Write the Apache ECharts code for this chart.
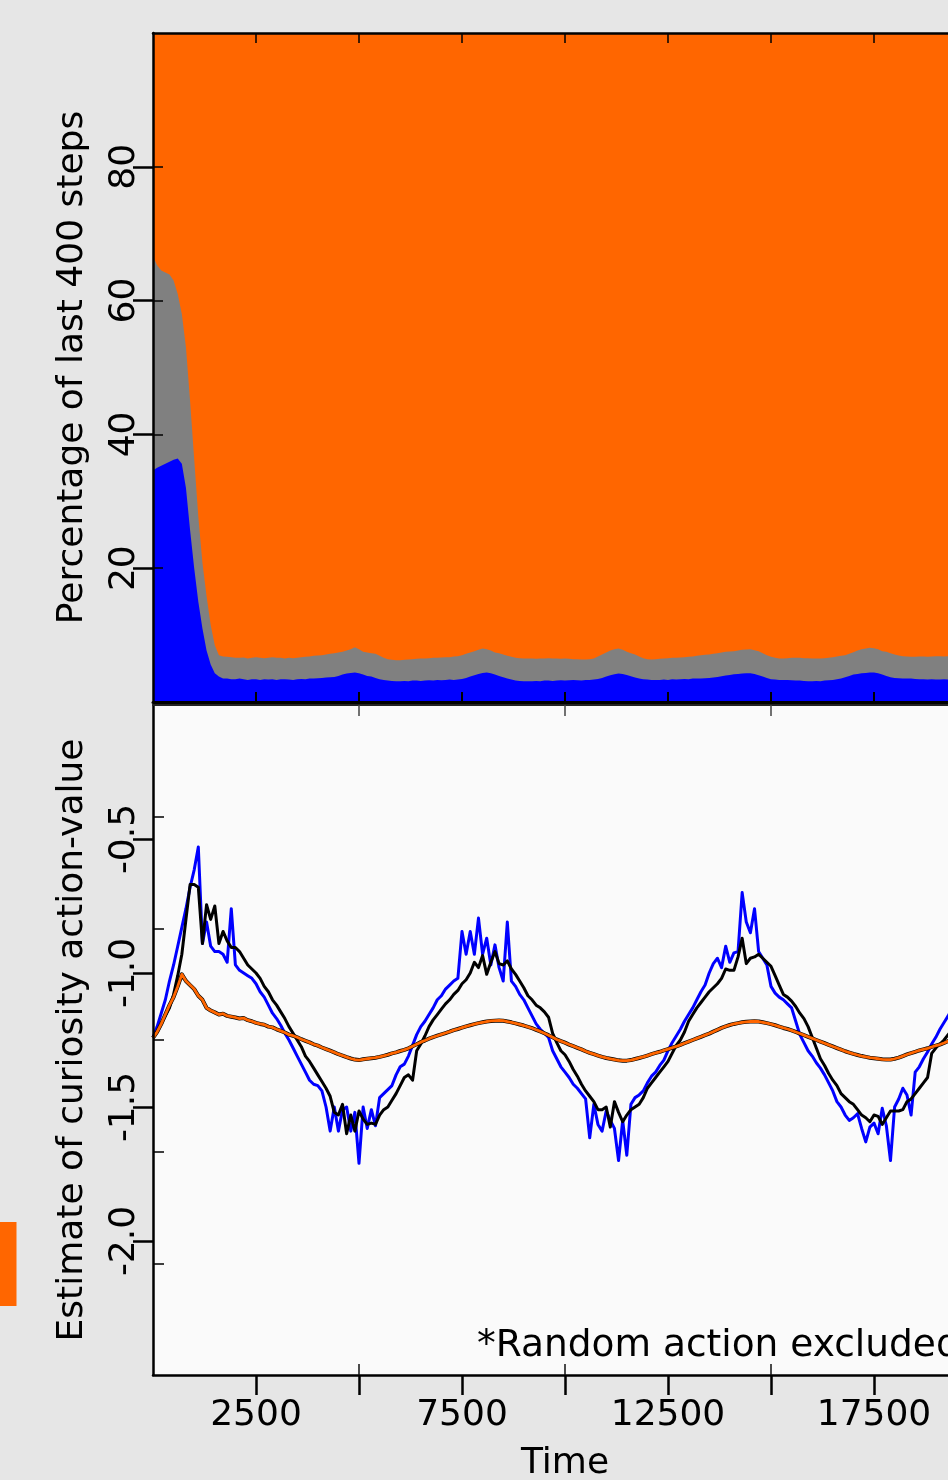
<!DOCTYPE html>
<html>
<head>
<meta charset="utf-8">
<title>Action shares and curiosity action-value over time</title>
<script src="https://cdn.jsdelivr.net/npm/echarts@6/dist/echarts.min.js"></script>
<style>
  html, body { margin: 0; padding: 0; background: #e6e6e6; }
  #chart { width: 948px; height: 1480px; }
</style>
</head>
<body>
<div id="chart"></div>
<script>
// Time between consecutive samples (steps)
const SAMPLE_STEP = 100;

// Top panel: share (%) of the last 400 steps taken by each action.
// blueShare = blue action, blueGrayShare = blue + gray actions together.
const blueShare = [
  34.6, 35.0, 35.3, 35.6, 35.9, 36.2, 36.4, 35.6, 32.0, 25.7,
  20.0, 15.0, 11.0, 7.7, 5.6, 4.3, 3.8, 3.5, 3.5, 3.4,
  3.4, 3.5, 3.4, 3.3, 3.4, 3.4, 3.3, 3.4, 3.35, 3.4,
  3.3, 3.4, 3.4, 3.35, 3.3, 3.4, 3.45, 3.4, 3.5, 3.5,
  3.55, 3.6, 3.65, 3.7, 3.75, 3.9, 4.1, 4.25, 4.35, 4.4,
  4.3, 4.1, 3.9, 3.8, 3.6, 3.4, 3.3, 3.2, 3.15, 3.1,
  3.1, 3.15, 3.1, 3.2, 3.2, 3.15, 3.2, 3.25, 3.2, 3.3,
  3.25, 3.3, 3.35, 3.3, 3.35, 3.45, 3.6, 3.8, 4.0, 4.2,
  4.35, 4.4, 4.3, 4.1, 3.9, 3.7, 3.5, 3.35, 3.2, 3.15,
  3.1, 3.1, 3.1, 3.15, 3.1, 3.2, 3.2, 3.15, 3.2, 3.25,
  3.2, 3.25, 3.3, 3.25, 3.2, 3.3, 3.3, 3.35, 3.45, 3.6,
  3.8, 4.0, 4.15, 4.25, 4.2, 4.05, 3.85, 3.65, 3.5, 3.4,
  3.35, 3.3, 3.3, 3.3, 3.35, 3.3, 3.4, 3.35, 3.4, 3.45,
  3.4, 3.5, 3.5, 3.5, 3.55, 3.6, 3.65, 3.75, 3.85, 3.95,
  4.05, 4.15, 4.2, 4.25, 4.3, 4.3, 4.2, 4.0, 3.8, 3.6,
  3.4, 3.35, 3.3, 3.3, 3.3, 3.25, 3.2, 3.2, 3.15, 3.1,
  3.1, 3.15, 3.1, 3.2, 3.25, 3.3, 3.4, 3.5, 3.7, 3.9,
  4.1, 4.2, 4.3, 4.35, 4.4, 4.4, 4.3, 4.1, 3.9, 3.7,
  3.6, 3.55, 3.5, 3.5, 3.5, 3.45, 3.4, 3.4, 3.35, 3.4,
  3.35, 3.35, 3.4, 3.35, 3.3, 3.35, 3.3
];
const blueGrayShare = [
  66.6, 65.3, 64.5, 64.2, 63.9, 63.0, 61.0, 58.0, 53.0, 45.0,
  36.3, 27.7, 20.8, 15.8, 11.5, 8.5, 7.0, 6.8, 6.75, 6.7,
  6.6, 6.6, 6.65, 6.5, 6.6, 6.7, 6.6, 6.55, 6.6, 6.7,
  6.6, 6.6, 6.5, 6.6, 6.55, 6.6, 6.7, 6.75, 6.8, 6.9,
  6.95, 7.0, 7.1, 7.2, 7.3, 7.4, 7.5, 7.7, 7.9, 8.2,
  7.9, 7.5, 7.4, 7.3, 7.2, 6.9, 6.6, 6.4, 6.3, 6.25,
  6.25, 6.3, 6.35, 6.4, 6.45, 6.5, 6.5, 6.55, 6.6, 6.6,
  6.65, 6.7, 6.7, 6.8, 6.85, 7.0, 7.2, 7.4, 7.6, 7.8,
  8.0, 7.9, 7.7, 7.4, 7.3, 7.1, 6.9, 6.75, 6.6, 6.55,
  6.5, 6.5, 6.5, 6.45, 6.5, 6.5, 6.55, 6.5, 6.5, 6.45,
  6.5, 6.45, 6.4, 6.4, 6.35, 6.35, 6.4, 6.5, 6.8, 7.1,
  7.4, 7.7, 7.9, 8.0, 7.8, 7.5, 7.3, 7.1, 6.8, 6.55,
  6.4, 6.35, 6.4, 6.45, 6.5, 6.55, 6.6, 6.6, 6.65, 6.7,
  6.75, 6.8, 6.9, 7.0, 7.05, 7.1, 7.2, 7.3, 7.4, 7.5,
  7.55, 7.6, 7.7, 7.8, 7.85, 7.9, 7.75, 7.6, 7.3, 7.0,
  6.75, 6.6, 6.5, 6.5, 6.55, 6.6, 6.6, 6.6, 6.55, 6.55,
  6.5, 6.5, 6.5, 6.55, 6.6, 6.7, 6.8, 6.9, 7.0, 7.2,
  7.45, 7.7, 7.9, 8.0, 8.1, 8.05, 7.9, 7.6, 7.5, 7.3,
  7.1, 6.95, 6.85, 6.8, 6.75, 6.75, 6.8, 6.8, 6.75, 6.8,
  6.85, 6.85, 6.8, 6.85, 6.85, 6.8, 6.85
];

// Bottom panel: estimated curiosity action-value of each action
const blueValue = [
  -1.24, -1.20, -1.15, -1.10, -1.03, -0.97, -0.90, -0.83, -0.76, -0.68,
  -0.615, -0.53, -0.89, -0.81, -0.90, -0.92, -0.92, -0.93, -0.96, -0.76,
  -0.97, -0.99, -1.00, -1.01, -1.02, -1.04, -1.07, -1.09, -1.12, -1.15,
  -1.17, -1.195, -1.225, -1.25, -1.28, -1.31, -1.34, -1.37, -1.40, -1.415,
  -1.42, -1.44, -1.50, -1.59, -1.50, -1.59, -1.51, -1.50, -1.59, -1.52,
  -1.71, -1.50, -1.58, -1.51, -1.57, -1.465, -1.45, -1.435, -1.42, -1.38,
  -1.35, -1.34, -1.31, -1.27, -1.23, -1.20, -1.18, -1.155, -1.13, -1.10,
  -1.085, -1.06, -1.045, -1.03, -1.02, -0.845, -0.93, -0.845, -0.93, -0.795,
  -0.93, -0.87, -0.97, -0.895, -0.98, -1.03, -0.81, -1.03, -1.05, -1.08,
  -1.10, -1.13, -1.16, -1.19, -1.21, -1.225, -1.24, -1.29, -1.32, -1.35,
  -1.37, -1.39, -1.415, -1.43, -1.45, -1.47, -1.615, -1.49, -1.565, -1.59,
  -1.515, -1.55, -1.58, -1.70, -1.55, -1.68, -1.49, -1.465, -1.455, -1.44,
  -1.41, -1.385, -1.37, -1.345, -1.325, -1.29, -1.26, -1.235, -1.21, -1.18,
  -1.155, -1.13, -1.10, -1.07, -1.045, -1.00, -0.965, -0.945, -0.98, -0.90,
  -0.96, -0.925, -0.92, -0.70, -0.81, -0.85, -0.76, -0.92, -0.945, -0.97,
  -1.05, -1.075, -1.09, -1.10, -1.115, -1.13, -1.18, -1.23, -1.26, -1.29,
  -1.31, -1.335, -1.355, -1.38, -1.41, -1.44, -1.48, -1.50, -1.53, -1.55,
  -1.54, -1.525, -1.58, -1.63, -1.575, -1.56, -1.60, -1.505, -1.57, -1.70,
  -1.50, -1.47, -1.43, -1.455, -1.53, -1.37, -1.35, -1.32, -1.295, -1.265,
  -1.24, -1.21, -1.185, -1.16, -1.13, -1.10, -1.08
];
const blackValue = [
  -1.24, -1.22, -1.19, -1.16, -1.13, -1.08, -1.01, -0.93, -0.80, -0.67,
  -0.67, -0.68, -0.89, -0.745, -0.80, -0.75, -0.89, -0.845, -0.88, -0.905,
  -0.905, -0.92, -0.945, -0.97, -0.985, -1.00, -1.02, -1.05, -1.07, -1.10,
  -1.12, -1.145, -1.17, -1.20, -1.225, -1.25, -1.275, -1.31, -1.33, -1.355,
  -1.38, -1.405, -1.43, -1.46, -1.52, -1.53, -1.49, -1.60, -1.53, -1.59,
  -1.515, -1.545, -1.565, -1.56, -1.565, -1.53, -1.51, -1.50, -1.475, -1.45,
  -1.42, -1.39, -1.38, -1.40, -1.29, -1.265, -1.235, -1.20, -1.175, -1.155,
  -1.135, -1.115, -1.10, -1.08, -1.065, -1.04, -1.025, -1.00, -0.96, -0.98,
  -0.935, -1.005, -0.96, -0.92, -0.965, -0.97, -0.955, -0.985, -1.005, -1.03,
  -1.055, -1.085, -1.10, -1.12, -1.13, -1.145, -1.165, -1.225, -1.26, -1.29,
  -1.305, -1.33, -1.36, -1.385, -1.415, -1.44, -1.46, -1.48, -1.51, -1.51,
  -1.50, -1.575, -1.48, -1.52, -1.555, -1.53, -1.51, -1.50, -1.49, -1.465,
  -1.43, -1.41, -1.39, -1.37, -1.35, -1.33, -1.30, -1.27, -1.25, -1.22,
  -1.18, -1.155, -1.13, -1.11, -1.09, -1.07, -1.055, -1.04, -1.02, -0.985,
  -0.99, -0.99, -0.94, -0.87, -0.965, -0.945, -0.94, -0.93, -0.945, -0.96,
  -0.975, -1.01, -1.045, -1.08, -1.09, -1.105, -1.125, -1.15, -1.17, -1.20,
  -1.24, -1.28, -1.32, -1.345, -1.375, -1.40, -1.42, -1.45, -1.465, -1.48,
  -1.49, -1.51, -1.53, -1.54, -1.555, -1.53, -1.535, -1.565, -1.54, -1.515,
  -1.515, -1.515, -1.51, -1.48, -1.47, -1.45, -1.43, -1.41, -1.39, -1.30,
  -1.28, -1.265, -1.25, -1.23, -1.21, -1.19, -1.17
];
const orangeValue = [
  -1.242, -1.22, -1.19, -1.155, -1.12, -1.09, -1.05, -1.005, -1.03, -1.045,
  -1.06, -1.085, -1.10, -1.13, -1.14, -1.147, -1.155, -1.152, -1.16, -1.163,
  -1.166, -1.17, -1.168, -1.176, -1.18, -1.186, -1.19, -1.193, -1.20, -1.203,
  -1.21, -1.216, -1.222, -1.23, -1.234, -1.24, -1.247, -1.253, -1.259, -1.266,
  -1.271, -1.278, -1.284, -1.29, -1.296, -1.303, -1.308, -1.314, -1.319, -1.323,
  -1.325, -1.322, -1.320, -1.318, -1.316, -1.313, -1.309, -1.305, -1.300, -1.296,
  -1.291, -1.287, -1.281, -1.273, -1.266, -1.258, -1.252, -1.245, -1.239, -1.234,
  -1.229, -1.224, -1.219, -1.213, -1.209, -1.204, -1.199, -1.195, -1.191, -1.187,
  -1.184, -1.181, -1.179, -1.178, -1.177, -1.178, -1.181, -1.184, -1.188, -1.192,
  -1.196, -1.201, -1.206, -1.212, -1.218, -1.225, -1.232, -1.240, -1.248, -1.254,
  -1.260, -1.267, -1.273, -1.279, -1.285, -1.292, -1.298, -1.303, -1.308, -1.313,
  -1.317, -1.320, -1.323, -1.326, -1.327, -1.327, -1.325, -1.321, -1.317, -1.313,
  -1.308, -1.303, -1.298, -1.294, -1.289, -1.284, -1.279, -1.274, -1.268, -1.262,
  -1.256, -1.250, -1.244, -1.238, -1.232, -1.226, -1.219, -1.212, -1.205, -1.199,
  -1.194, -1.190, -1.187, -1.184, -1.182, -1.181, -1.180, -1.181, -1.184, -1.187,
  -1.191, -1.195, -1.200, -1.205, -1.209, -1.214, -1.220, -1.226, -1.232, -1.238,
  -1.244, -1.250, -1.256, -1.262, -1.268, -1.274, -1.280, -1.286, -1.292, -1.297,
  -1.302, -1.306, -1.310, -1.313, -1.316, -1.318, -1.320, -1.322, -1.323, -1.323,
  -1.320, -1.316, -1.310, -1.304, -1.299, -1.294, -1.289, -1.285, -1.281, -1.276,
  -1.271, -1.267, -1.261, -1.254, -1.248, -1.242, -1.236
];

// Axis ticks and tick labels
const timeTicks = [2500, 5000, 7500, 10000, 12500, 15000, 17500, 20000];
const timeMinorTicks = [5000, 10000, 15000, 20000];
const timeTickLabels = [2500, 7500, 12500, 17500];
const percentTicks = [20, 40, 60, 80];
const estimateTicks = [-0.5, -1.0, -1.5, -2.0];
const estimateInnerTicks = [1, 2, 3, 4, 5];

const FONT = 'DejaVu Sans';
const ORANGE = '#ff6600';
const BLUE = '#0000ff';
const GRAY = '#808080';

const toPoints = arr => arr.map((v, i) => [i * SAMPLE_STEP, v]);
// Orange takes the remainder of the window, so the three bands fill 0..100
const orangeShare = blueGrayShare.map(v => 100 - v);
const allShare = blueGrayShare.map((v, i) => v + orangeShare[i]);

const labelStyle = { color: '#000', fontFamily: FONT, fontSize: 36 };
const noLine = { show: false };
const line = (width, color) => ({ onZero: false, lineStyle: { color: color || '#000', width } });
const hiddenLine = { show: false, onZero: false };

// Each band is filled from the bottom of the panel up to its cumulative edge;
// later bands are drawn on top of earlier ones.
function bandSeries(name, edge, color, z) {
  return {
    name, type: 'line', xAxisIndex: 0, yAxisIndex: 0, z,
    data: toPoints(edge), symbol: 'none', silent: true,
    lineStyle: { width: 0 }, areaStyle: { color, opacity: 1, origin: 'start' }
  };
}
function valueSeries(name, data, color, width, z) {
  return {
    name, type: 'line', xAxisIndex: 2, yAxisIndex: 2, z,
    data: toPoints(data), symbol: 'none', silent: true,
    lineStyle: { color, width, join: 'round' }
  };
}

const chart = echarts.init(document.getElementById('chart'), null, { renderer: 'canvas' });

chart.setOption({
  backgroundColor: '#e6e6e6',
  animation: false,
  grid: [
    { left: 153, top: 33, width: 824, height: 669, outerBoundsMode: 'none', containLabel: false },
    { left: 153, top: 705, width: 824, height: 670, outerBoundsMode: 'none', containLabel: false,
      show: true, backgroundColor: '#fafafa', borderWidth: 0 }
  ],
  xAxis: [
    { gridIndex: 0, type: 'value', position: 'bottom', min: 0, max: 20000, z: 10,
      axisLine: line(3),
      axisTick: { inside: true, length: 10, customValues: timeTicks, lineStyle: { color: '#000', width: 2 } },
      axisLabel: { show: false }, splitLine: noLine },
    { gridIndex: 0, type: 'value', position: 'top', min: 0, max: 20000, z: 10,
      axisLine: line(2.5),
      axisTick: { inside: true, length: 10, customValues: timeTicks, lineStyle: { color: '#000', width: 1.5 } },
      axisLabel: { show: false }, splitLine: noLine },
    { gridIndex: 1, type: 'value', position: 'bottom', min: 0, max: 20000, z: 10,
      name: 'Time', nameLocation: 'middle', nameGap: 71, nameTextStyle: labelStyle,
      axisLine: line(2.5),
      axisTick: { inside: false, length: 20, customValues: timeTicks, lineStyle: { color: '#000', width: 2.5 } },
      axisLabel: Object.assign({ margin: 23, customValues: timeTickLabels, formatter: v => String(v) }, labelStyle),
      splitLine: noLine },
    { gridIndex: 1, type: 'value', position: 'bottom', min: 0, max: 20000, z: 10,
      axisLine: hiddenLine,
      axisTick: { inside: true, length: 11, customValues: timeMinorTicks, lineStyle: { color: '#111', width: 1.5 } },
      axisLabel: { show: false }, splitLine: noLine },
    { gridIndex: 1, type: 'value', position: 'top', min: 0, max: 20000, z: 10,
      axisLine: line(2, '#222'),
      axisTick: { inside: true, length: 11, customValues: timeMinorTicks, lineStyle: { color: '#444', width: 1.5 } },
      axisLabel: { show: false }, splitLine: noLine }
  ],
  yAxis: [
    { gridIndex: 0, type: 'value', position: 'left', min: 0, max: 100, z: 10,
      name: 'Percentage of last 400 steps', nameLocation: 'middle', nameRotate: 90, nameGap: 62,
      nameTextStyle: labelStyle,
      axisLine: line(2.5),
      axisTick: { inside: false, length: 20, customValues: percentTicks, lineStyle: { color: '#000', width: 2.5 } },
      axisLabel: Object.assign({ rotate: 90, margin: 10, customValues: percentTicks, formatter: v => String(v) }, labelStyle),
      splitLine: noLine },
    { gridIndex: 0, type: 'value', position: 'left', min: 0, max: 100, z: 10,
      axisLine: hiddenLine,
      axisTick: { inside: true, length: 10, customValues: percentTicks, lineStyle: { color: '#000', width: 1.5 } },
      axisLabel: { show: false }, splitLine: noLine },
    { gridIndex: 1, type: 'value', position: 'left', min: -2.5, max: 0, z: 10,
      name: 'Estimate of curiosity action-value', nameLocation: 'middle', nameRotate: 90, nameGap: 62,
      nameTextStyle: labelStyle,
      axisLine: line(2.5),
      axisTick: { inside: false, length: 20, customValues: estimateTicks, lineStyle: { color: '#000', width: 2.5 } },
      axisLabel: Object.assign({ rotate: 90, margin: 10, customValues: estimateTicks,
        formatter: v => Number(v).toFixed(1) }, labelStyle),
      splitLine: noLine },
    { gridIndex: 1, type: 'value', position: 'left', min: 0, max: 6, z: 10,
      axisLine: hiddenLine,
      axisTick: { inside: true, length: 11, customValues: estimateInnerTicks, lineStyle: { color: '#000', width: 1.5 } },
      axisLabel: { show: false }, splitLine: noLine }
  ],
  series: [
    bandSeries('Orange action', allShare, ORANGE, 1),
    bandSeries('Gray action', blueGrayShare, GRAY, 2),
    bandSeries('Blue action', blueShare, BLUE, 3),
    valueSeries('Blue action value', blueValue, BLUE, 3, 2),
    valueSeries('Black action value', blackValue, '#000', 3, 3),
    valueSeries('Orange action value outline', orangeValue, '#000', 4, 4),
    valueSeries('Orange action value', orangeValue, ORANGE, 2.8, 5)
  ],
  graphic: [
    { type: 'text', left: 477, top: 1327, silent: true,
      style: { text: '*Random action excluded', fill: '#000', font: '37.5px "DejaVu Sans"' } },
    { type: 'rect', left: 0, top: 1222, silent: true,
      shape: { width: 16.5, height: 84 }, style: { fill: ORANGE } }
  ]
});
</script>
</body>
</html>
